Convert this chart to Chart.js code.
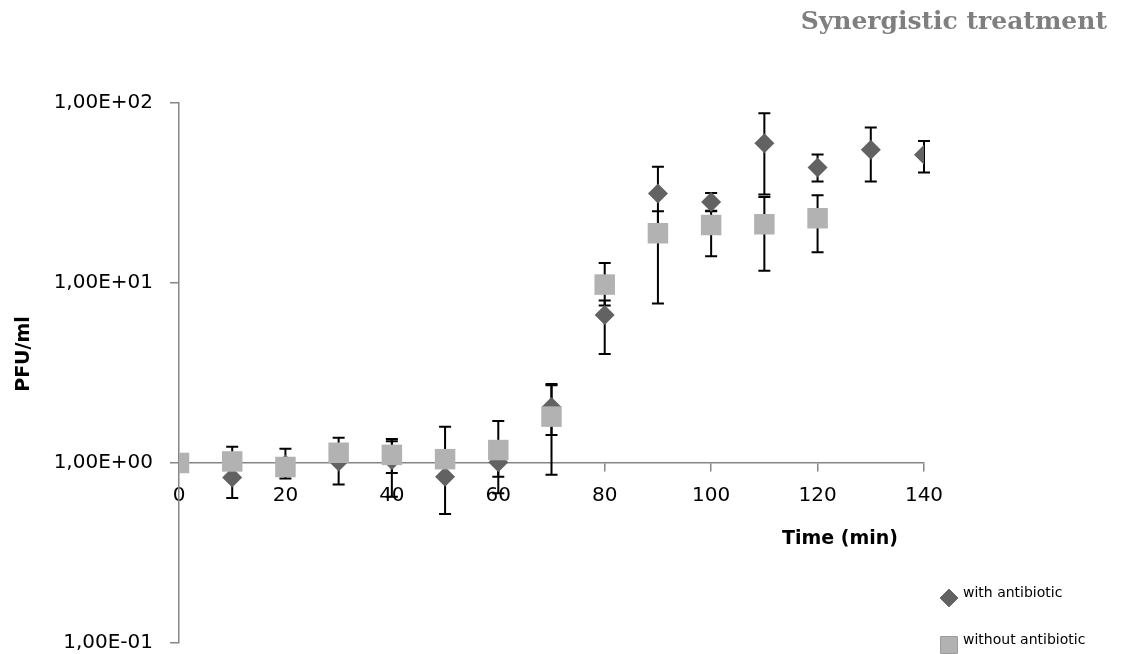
<!DOCTYPE html>
<html>
<head>
<meta charset="utf-8">
<title>Synergistic treatment</title>
<script src="https://cdn.jsdelivr.net/npm/chart.js@4.4.0/dist/chart.umd.min.js"></script>
<style>
  html, body { margin: 0; padding: 0; background: #fff; }
  #wrap { width: 1124px; height: 654px; position: relative; }
</style>
</head>
<body>
<div id="wrap"><canvas id="myChart"></canvas></div>
<script>
// time points (min)
const times = [0, 10, 20, 30, 40, 50, 60, 70, 80, 90, 100, 110, 120, 130, 140];

// with antibiotic (diamonds) + error bar ends
const withAb     = [1.0, 0.83, 0.98, 1.02, 1.04, 0.84, 1.01, 2.05, 6.64, 31.4, 28.2, 59.7, 43.8, 55.0, 51.5];
const withAbLow  = [null, 0.64, 0.82, 0.76, 0.65, 0.52, 0.68, 1.43, 4.03, 20.0, 25.2, 31.0, 36.6, 36.6, 41.1];
const withAbHigh = [null, 1.23, 1.20, 1.38, 1.36, 1.59, 1.15, 2.75, 8.00, 44.3, 31.6, 87.8, 51.8, 73.0, 61.6];

// without antibiotic (squares) + error bar ends
const withoutAb     = [1.0, 1.02, 0.95, 1.14, 1.11, 1.05, 1.18, 1.81, 9.8, 18.9, 21.0, 21.2, 22.9];
const withoutAbLow  = [null, null, null, null, 0.88, null, 0.84, 0.86, 7.5, 7.7, 14.1, 11.7, 14.8];
const withoutAbHigh = [null, null, null, null, 1.32, null, 1.71, 2.70, 12.9, 25.0, 25.0, 30.0, 30.7];

// axis ticks
const yTicks = [0.1, 1, 10, 100];
const yTickLabels = ['1,00E-01', '1,00E+00', '1,00E+01', '1,00E+02'];

const axisGray = '#868686';

function toPoints(vals) {
  return vals.map((v, i) => ({ x: times[i], y: v }));
}

// error bars, title, axis titles and legend
const extras = {
  id: 'extras',
  beforeDatasetsDraw(chart) {
    const ctx = chart.ctx;
    const xs = chart.scales.x, ys = chart.scales.y;
    const sets = [[withAbLow, withAbHigh], [withoutAbLow, withoutAbHigh]];
    ctx.save();
    ctx.strokeStyle = '#000';
    ctx.lineWidth = 2;
    sets.forEach(([lo, hi]) => {
      lo.forEach((l, i) => {
        if (l == null) return;
        const x = xs.getPixelForValue(times[i]);
        const y1 = ys.getPixelForValue(l);
        const y2 = ys.getPixelForValue(hi[i]);
        ctx.beginPath();
        ctx.moveTo(x, y1); ctx.lineTo(x, y2);
        ctx.moveTo(x - 6, y1); ctx.lineTo(x + 6, y1);
        ctx.moveTo(x - 6, y2); ctx.lineTo(x + 6, y2);
        ctx.stroke();
      });
    });
    ctx.restore();
  },
  afterDraw(chart) {
    const ctx = chart.ctx;
    ctx.save();
    // title
    ctx.fillStyle = '#7f7f7f';
    ctx.font = 'bold 25px "DejaVu Serif"';
    ctx.textAlign = 'right';
    ctx.textBaseline = 'alphabetic';
    ctx.fillText('Synergistic treatment', 1107, 29);

    // axis titles
    ctx.fillStyle = '#000';
    ctx.font = 'bold 19px "DejaVu Sans"';
    ctx.textAlign = 'center';
    ctx.textBaseline = 'middle';
    ctx.fillText('Time (min)', 840, 539);
    ctx.save();
    ctx.translate(24, 354);
    ctx.rotate(-Math.PI / 2);
    ctx.fillText('PFU/ml', 0, 0);
    ctx.restore();

    // legend
    const items = chart.data.datasets;
    const ly = [598, 645];
    ctx.font = '14px "DejaVu Sans"';
    ctx.textAlign = 'left';
    items.forEach((ds, k) => {
      Chart.helpers.drawPoint(ctx, {
        pointStyle: ds.pointStyle,
        radius: k === 0 ? 9 : 12,
        borderWidth: 0
      }, 949, ly[k]);
      ctx.fillStyle = ds.backgroundColor;
      ctx.fill();
      ctx.fillStyle = '#000';
      ctx.fillText(ds.label, 963, ly[k] - 5);
    });
    ctx.restore();
  }
};

const chart = new Chart(document.getElementById('myChart'), {
  type: 'scatter',
  data: {
    datasets: [{
      label: 'with antibiotic',
      data: toPoints(withAb),
      order: 2,
      pointStyle: 'rectRot',
      pointRadius: 10,
      backgroundColor: '#626262',
      borderColor: '#626262',
      borderWidth: 0
    }, {
      label: 'without antibiotic',
      data: toPoints(withoutAb),
      order: 1,
      pointStyle: 'rect',
      pointRadius: 14.5,
      backgroundColor: '#b2b2b2',
      borderColor: '#b2b2b2',
      borderWidth: 0
    }]
  },
  options: {
    responsive: true,
    maintainAspectRatio: false,
    animation: false,
    events: [],
    layout: { autoPadding: false, padding: { left: 0, right: 200, top: 103, bottom: 11 } },
    plugins: {
      legend: { display: false },
      title: { display: false },
      tooltip: { enabled: false }
    },
    scales: {
      x: {
        type: 'linear',
        position: { y: 1 },
        min: 0,
        max: 140,
        ticks: {
          stepSize: 20,
          color: '#000',
          padding: 13,
          font: { family: 'DejaVu Sans', size: 20 }
        },
        grid: { drawOnChartArea: false, drawTicks: true, tickLength: 8, color: axisGray, lineWidth: 1.5 },
        border: { color: axisGray, width: 1.5 }
      },
      y: {
        type: 'logarithmic',
        min: 0.1,
        max: 100,
        afterBuildTicks(scale) {
          scale.ticks = yTicks.map(v => ({ value: v }));
        },
        afterFit(scale) {
          scale.width = 179;
          scale.paddingTop = 0;
          scale.paddingBottom = 0;
        },
        ticks: {
          color: '#000',
          padding: 17,
          font: { family: 'DejaVu Sans', size: 20 },
          callback(v) {
            const i = yTicks.indexOf(v);
            return i >= 0 ? yTickLabels[i] : '';
          }
        },
        grid: { drawOnChartArea: false, drawTicks: true, tickLength: 9, color: axisGray, lineWidth: 1.5 },
        border: { color: axisGray, width: 1.5 }
      }
    }
  },
  plugins: [extras]
});
</script>
</body>
</html>
